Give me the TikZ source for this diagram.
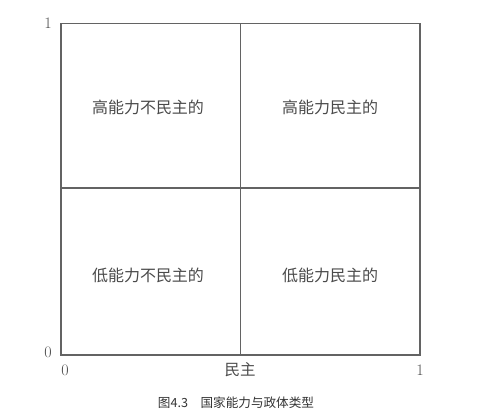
\documentclass[tikz,border=0pt]{standalone}
\usepackage{fontspec}
\newfontfamily\cjk{Noto Sans CJK SC}
\usetikzlibrary{positioning}
\definecolor{FrameGray}{HTML}{636363}
\definecolor{LabelGray}{HTML}{4A4A4A}

\begin{document}
\begin{tikzpicture}[
  x=1pt, y=1pt,
  frame/.style={draw=FrameGray, line width=1.3pt},
  cell/.style={font=\cjk\fontsize{16}{19}\selectfont, text=LabelGray},
  tick/.style={font=\fontsize{16}{19}\selectfont, text=LabelGray, inner sep=0pt},
  caption/.style={font=\cjk\fontsize{12.6}{15}\selectfont, text=black!80}
]
  \useasboundingbox (0,0) rectangle (501,419);
  \coordinate (origin) at (61,64);
  \coordinate (corner) at (420,395.5);
  \coordinate (mid) at (240.5,231);

  % frame and quadrant lines
  \draw[frame] (origin) rectangle (corner);
  \draw[frame] (mid |- origin) -- (mid |- corner);
  \draw[frame] (mid -| origin) -- (mid -| corner);

  % quadrant labels
  \node[cell] (hnd) at (148,312) {高能力不民主的};
  \node[cell] (hd) at (330,312) {高能力民主的};
  \node[cell] (lnd) at (148,144) {低能力不民主的};
  \node[cell] (ld) at (330,144) {低能力民主的};

  % axis ticks
  \node[tick] (ytop) at (48,396) {1};
  \node[tick] (yzero) at (48,67) {0};
  \node[tick] (xzero) at (65,49) {0};
  \node[tick] (xone) at (420,49) {1};
  \node[cell, font=\cjk\fontsize{15.5}{18}\selectfont] (xaxis) at (240,49) {民主};

  % caption
  \node[caption] (fig) at (236,16) {图4.3\hspace{1em}国家能力与政体类型};
\end{tikzpicture}
\end{document}
